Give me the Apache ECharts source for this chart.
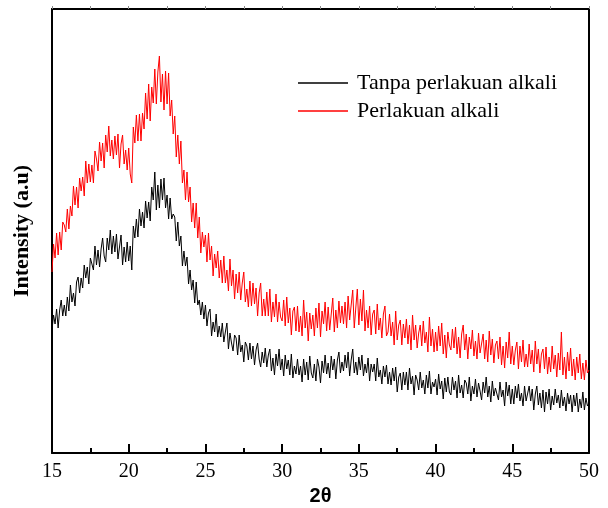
<!DOCTYPE html>
<html>
<head>
<meta charset="utf-8">
<script src="https://cdn.jsdelivr.net/npm/echarts@6/dist/echarts.min.js"></script>
<style>html,body{margin:0;padding:0;background:#fff}#c{width:608px;height:508px}</style>
</head>
<body>
<div id="c"></div>
<script>
// 2θ measurement grid: 15.0 to 50.0 in 0.1 deg steps
var thetaStart = 15.0, thetaStep = 0.1;
var xTicks = [15, 20, 25, 30, 35, 40, 45, 50];
var seriesNames = ['Tanpa perlakuan alkali', 'Perlakuan alkali'];

// Intensity (a.u.), one value per 0.1 deg
var tanpaAlkali = [
123,138,129,144,125,143,153,137,148,137,
156,142,168,151,160,147,171,176,160,175,
165,188,175,186,169,195,189,183,207,188,
203,186,204,215,197,191,215,203,223,199,
217,201,219,194,206,218,188,206,191,211,
192,207,183,227,215,234,216,244,227,241,
225,252,235,251,232,266,253,281,243,268,
245,274,253,275,245,258,234,255,234,239,
236,212,231,207,217,187,202,187,196,169,
183,163,173,150,171,148,153,138,151,134,
148,127,140,144,117,131,121,139,116,127,
116,130,111,121,130,104,120,110,102,118,
115,98,118,101,108,91,111,107,93,110,
94,107,88,103,110,94,86,101,90,105,
86,98,104,82,95,78,99,87,104,83,
94,77,98,84,93,78,99,75,87,79,
94,78,87,71,94,78,91,73,97,80,
75,89,72,94,86,70,92,80,98,79,
90,75,97,83,94,74,93,101,80,91,
82,98,85,101,77,93,104,80,91,78,
96,83,98,77,89,80,95,72,89,81,
89,72,95,76,83,69,87,76,88,69,
81,68,85,72,86,61,76,80,63,81,
68,81,63,85,69,77,58,78,73,63,
81,65,73,59,78,65,82,59,71,66,
74,58,79,64,72,54,75,61,76,61,
58,76,63,72,55,78,60,68,55,73,
70,59,76,52,67,59,74,56,70,62,
53,71,60,76,56,67,51,72,57,65,
67,53,71,56,63,47,71,57,68,49,
64,49,67,55,69,52,60,47,67,52,
51,67,52,64,43,59,67,48,60,45,
63,41,61,49,64,43,57,48,64,50,
58,45,63,47,56,42,60,49,58,41,
58,47,60,41,54,45,61,43,55,47,
50
];

var perlakuanAlkali = [
181,209,195,220,198,221,203,231,228,221,
244,224,247,237,267,248,266,245,275,262,
276,257,292,270,289,271,288,270,302,294,
282,311,292,310,285,318,301,327,297,313,
294,317,298,319,285,309,318,289,303,283,
305,279,270,326,310,338,312,339,312,340,
324,360,334,369,332,366,350,384,349,381,
397,351,379,343,382,349,380,337,353,319,
337,296,318,289,312,270,283,253,281,251,
266,231,250,225,250,215,236,200,221,206,
218,191,220,193,207,177,199,185,202,175,
193,170,197,170,183,162,194,167,183,154,
179,160,181,153,170,181,151,164,146,172,
147,170,149,165,137,160,170,137,154,137,
161,137,164,131,151,136,159,131,151,136,
132,153,127,156,130,145,118,142,146,122,
147,121,137,117,153,125,141,112,140,124,
138,117,145,125,150,116,142,129,151,122,
146,123,139,155,121,143,125,152,130,147,
129,151,125,157,133,148,163,125,145,164,
128,154,132,163,122,143,125,147,118,139,
143,119,149,123,135,115,139,147,117,121,
139,117,131,108,142,113,128,133,108,129,
115,134,109,128,103,138,113,128,105,120,
128,107,132,110,121,101,136,107,124,101,
121,102,127,107,130,99,118,95,121,108,
103,124,105,126,99,116,95,119,128,103,
119,94,116,104,123,97,112,94,120,100,
101,119,94,113,91,122,98,114,90,108,
112,94,116,88,107,85,111,95,121,89,
107,88,103,111,84,107,91,113,86,99,
86,109,89,103,81,112,89,104,80,99,
104,84,106,79,96,81,107,84,98,76,
100,83,121,78,96,74,101,82,105,77,
94,73,96,80,99,74,90,73,93,80,
83
];

function pairs(arr) {
  var out = [];
  for (var i = 0; i < arr.length; i++) {
    out.push([+(thetaStart + i * thetaStep).toFixed(2), arr[i]]);
  }
  return out;
}

var chart = echarts.init(document.getElementById('c'), null, {renderer: 'canvas'});
var serif = '"Liberation Serif", "Times New Roman", serif';
chart.setOption({
  animation: false,
  backgroundColor: '#fff',
  grid: {left: 52, right: 19, top: 9, bottom: 55, containLabel: false, outerBoundsMode: 'none'},
  legend: {
    orient: 'vertical', left: 293, top: 67, itemGap: 6,
    itemWidth: 50, itemHeight: 1.5, icon: 'rect',
    textStyle: {fontFamily: serif, fontSize: 22, color: '#000', padding: [0, 0, 0, 4]},
    data: seriesNames
  },
  xAxis: [{
    type: 'value', position: 'bottom', min: xTicks[0], max: xTicks[xTicks.length - 1], interval: 5,
    name: '2θ', nameLocation: 'middle', nameGap: 31,
    nameTextStyle: {fontFamily: '"Liberation Sans", Arial, sans-serif', fontWeight: 'bold', fontSize: 20, color: '#000'},
    axisLine: {show: true, onZero: false, lineStyle: {color: '#000', width: 2}},
    axisTick: {show: true, inside: true, length: 9, lineStyle: {color: '#000', width: 2}},
    minorTick: {show: true, splitNumber: 2, length: 5, lineStyle: {color: '#000', width: 2}},
    axisLabel: {fontFamily: serif, fontSize: 20, color: '#000', margin: 9},
    splitLine: {show: false}
  }, {
    type: 'value', position: 'top', min: 15, max: 50, interval: 2.5,
    axisLine: {show: true, onZero: false, lineStyle: {color: '#000', width: 2}},
    axisTick: {show: true, inside: false, length: 3, lineStyle: {color: '#888', width: 1}},
    axisLabel: {show: false}, splitLine: {show: false}
  }],
  yAxis: [{
    type: 'value', position: 'left', min: 0, max: 444,
    name: 'Intensity (a.u)', nameLocation: 'middle', nameGap: 19, nameRotate: 90,
    nameTextStyle: {fontFamily: serif, fontWeight: 'bold', fontSize: 22, color: '#000'},
    axisLine: {show: true, onZero: false, lineStyle: {color: '#000', width: 2}},
    axisTick: {show: false}, axisLabel: {show: false}, splitLine: {show: false}
  }, {
    type: 'value', position: 'right', min: 0, max: 444,
    axisLine: {show: true, onZero: false, lineStyle: {color: '#000', width: 2}},
    axisTick: {show: false}, axisLabel: {show: false}, splitLine: {show: false}
  }],
  series: [{
    name: seriesNames[0], type: 'line', xAxisIndex: 0, yAxisIndex: 0,
    data: pairs(tanpaAlkali), showSymbol: false, symbol: 'none',
    lineStyle: {color: '#000', width: 1}, itemStyle: {color: '#000'}
  }, {
    name: seriesNames[1], type: 'line', xAxisIndex: 0, yAxisIndex: 0,
    data: pairs(perlakuanAlkali), showSymbol: false, symbol: 'none',
    lineStyle: {color: '#ff0000', width: 1}, itemStyle: {color: '#ff0000'}
  }]
});
</script>
</body>
</html>
